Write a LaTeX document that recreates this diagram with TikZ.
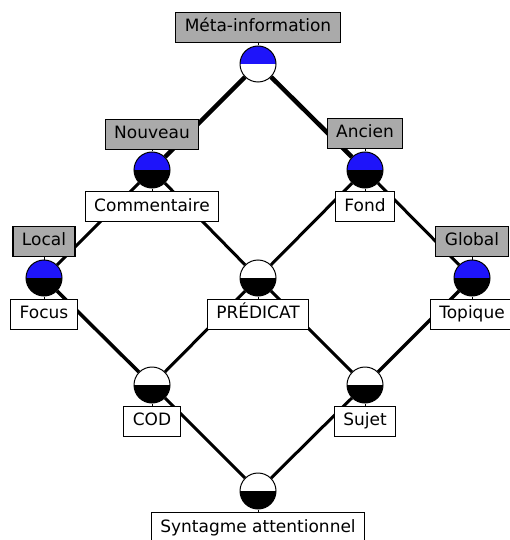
\documentclass[tikz,border=0pt]{standalone}
\usepackage{fontspec}
\setmainfont{DejaVu Sans}
\usepackage{tikz}
\usetikzlibrary{positioning}
\definecolor{attrblue}{RGB}{30,20,250}
\definecolor{boxgray}{RGB}{170,170,170}
\tikzset{
	concept/.style 2 args={circle,draw,line width=1pt,minimum size=36pt,inner sep=0pt,
		path picture={\fill[#1] (path picture bounding box.north west) rectangle (path picture bounding box.east);
			\fill[#2] (path picture bounding box.west) rectangle (path picture bounding box.south east);}},
	lbl/.style={draw,line width=1.1pt,font=\fontsize{17}{20}\selectfont,inner xsep=9pt,inner ysep=0pt,
		text height=12.5pt,text depth=3.5pt,minimum height=30pt},
	attr/.style={lbl,fill=boxgray},
	obj/.style={lbl,fill=white},
	edge/.style={line width=3pt},
	wedge/.style={line width=4.5pt},
	tick/.style={line width=0.8pt}
}
\begin{document}
\begin{tikzpicture}[x=1pt,y=-1pt]
	\useasboundingbox (0,0) rectangle (509,540);
	\node [concept={attrblue}{white}] (meta) at (258,64) {};
	\node [concept={attrblue}{black}] (nouv) at (152,170) {};
	\node [concept={attrblue}{black}] (anc) at (365,170) {};
	\node [concept={attrblue}{black}] (loc) at (44,278) {};
	\node [concept={white}{black}] (pred) at (258,278) {};
	\node [concept={attrblue}{black}] (glob) at (472,278) {};
	\node [concept={white}{black}] (cod) at (152,385) {};
	\node [concept={white}{black}] (suj) at (365,385) {};
	\node [concept={white}{black}] (synt) at (258,491) {};

	\draw [wedge] (meta) -- (nouv);
	\draw [wedge] (meta) -- (anc);
	\draw [edge] (nouv) -- (loc);
	\draw [edge] (nouv) -- (pred);
	\draw [edge] (anc) -- (pred);
	\draw [edge] (anc) -- (glob);
	\draw [edge,line width=3.5pt] (loc) -- (cod);
	\draw [edge] (pred) -- (cod);
	\draw [edge] (pred) -- (suj);
	\draw [edge,line width=3.5pt] (glob) -- (suj);
	\draw [edge] (cod) -- (synt);
	\draw [edge] (suj) -- (synt);

	\node [attr,above=2.5pt of meta] (metal) {Méta-information};
	\node [attr,above=1.5pt of nouv] (nouvl) {Nouveau};
	\node [attr,above=2.5pt of anc] (ancl) {Ancien};
	\node [attr,above=2.5pt of loc] (locl) {Local};
	\node [attr,above=2.5pt of glob] (globl) {Global};
	\node [obj,below=2.5pt of nouv] (comm) {Commentaire};
	\node [obj,below=2.5pt of anc] (fond) {Fond};
	\node [obj,below=2pt of loc] (foc) {Focus};
	\node [obj,below=2pt of pred] (predl) {PRÉDICAT};
	\node [obj,below=2pt of glob] (top) {Topique};
	\node [obj,below=2pt of cod] (codl) {COD};
	\node [obj,below=2pt of suj] (sujl) {Sujet};
	\node [obj,below=2.5pt of synt] (syntl) {Syntagme attentionnel};

	\draw [tick] (metal) -- (meta);
	\draw [tick] (nouvl) -- (nouv);
	\draw [tick] (ancl) -- (anc);
	\draw [tick] (locl) -- (loc);
	\draw [tick] (globl) -- (glob);
	\draw [tick] (comm) -- (nouv);
	\draw [tick] (fond) -- (anc);
	\draw [tick] (foc) -- (loc);
	\draw [tick] (predl) -- (pred);
	\draw [tick] (top) -- (glob);
	\draw [tick] (codl) -- (cod);
	\draw [tick] (sujl) -- (suj);
	\draw [tick] (syntl) -- (synt);
\end{tikzpicture}
\end{document}
